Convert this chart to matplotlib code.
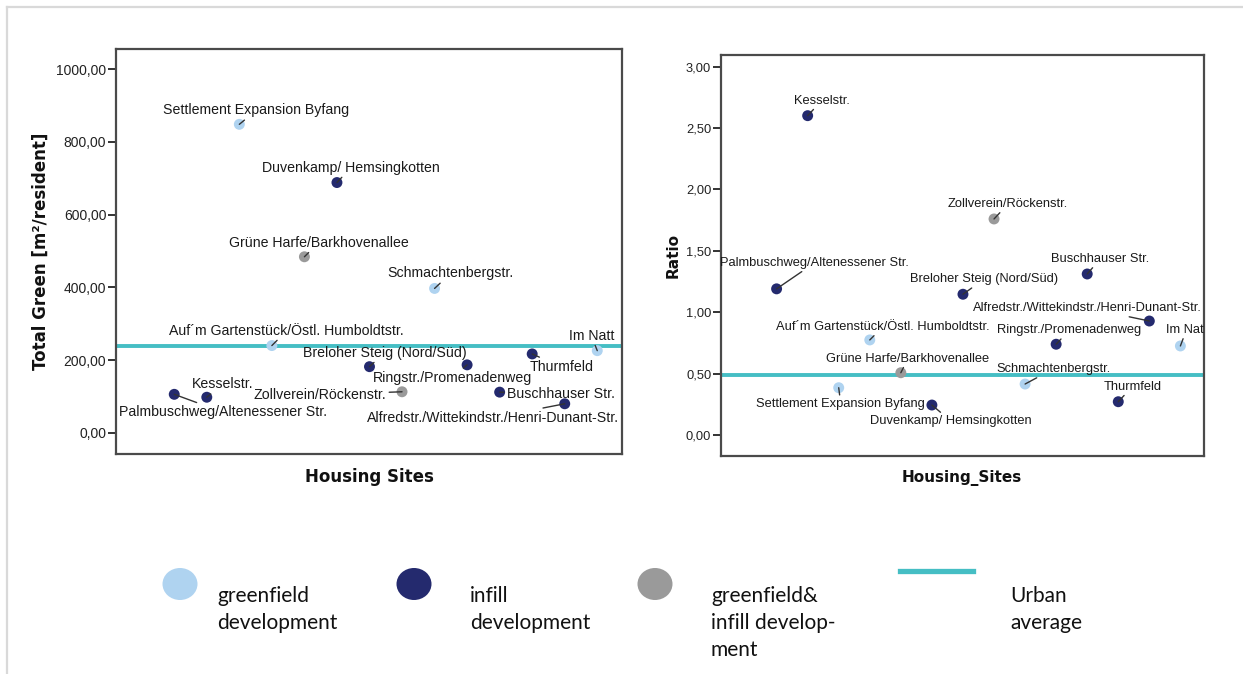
import matplotlib
matplotlib.use("Agg")
import matplotlib.pyplot as plt
from matplotlib.ticker import FuncFormatter
from matplotlib.lines import Line2D
from matplotlib.patches import Ellipse

# ---------------- data ----------------
sites = ["Palmbuschweg/Altenessener Str.", "Kesselstr.", "Settlement Expansion Byfang",
         "Auf´m Gartenstück/Östl. Humboldtstr.", "Grüne Harfe/Barkhovenallee",
         "Duvenkamp/ Hemsingkotten", "Breloher Steig (Nord/Süd)", "Zollverein/Röckenstr.",
         "Schmachtenbergstr.", "Ringstr./Promenadenweg", "Buschhauser Str.", "Thurmfeld",
         "Alfredstr./Wittekindstr./Henri-Dunant-Str.", "Im Natt"]
site_index = [1, 2, 3, 4, 5, 6, 7, 8, 9, 10, 11, 12, 13, 14]
site_type = ["infill", "infill", "greenfield", "greenfield", "mixed", "infill", "infill",
             "mixed", "greenfield", "infill", "infill", "infill", "infill", "greenfield"]
total_green = [106, 98, 848, 240, 484, 688, 182, 113, 397, 187, 112, 217, 80, 226]
ratio = [1.19, 2.60, 0.385, 0.774, 0.507, 0.244, 1.146, 1.759, 0.415, 0.739, 1.311, 0.271, 0.928, 0.725]
urban_avg_green = 240
urban_avg_ratio = 0.489

left_ticks = [0, 200, 400, 600, 800, 1000]
right_ticks = [0, 0.5, 1.0, 1.5, 2.0, 2.5, 3.0]

legend_labels = ["greenfield\ndevelopment", "infill\ndevelopment",
                 "greenfield&\ninfill develop-\nment", "Urban\naverage"]

# ---------------- style ----------------
colors = {"greenfield": "#AFD3F0", "infill": "#242A6E", "mixed": "#9A9A9A"}
teal = "#45BEC4"

# label offsets in pixels (dx right, dy up) for each site, per panel
left_off = [(49, -18), (16, 13), (17, 14), (15, 15), (14, 14), (14, 15), (15, 14),
            (-82, -3), (16, 15), (-15, -13), (61, -2), (29, -13), (-72, -14), (-6, 15)]
right_off = [(38, 26), (14, 15), (2, -16), (13, 13), (7, 14), (19, -16), (21, 15),
             (14, 15), (28, 15), (13, 14), (13, 15), (14, 15), (-62, 13), (6, 16)]

W, H = 1243, 674
fig = plt.figure(figsize=(W / 100, H / 100), dpi=100)
fig.patch.set_facecolor("white")


def px(x, y):
    return x / W, 1 - y / H


def make_panel(rect, values, ylim, ticks, fmt, avg, offs, lab_size, tick_size):
    ax = fig.add_axes(rect)
    ax.set_xlim(-0.79, 14.76)
    ax.set_ylim(*ylim)
    ax.axhline(avg, color=teal, lw=2.8, zorder=2)
    for xi, yi, t in zip(site_index, values, site_type):
        ax.scatter([xi], [yi], s=62, color=colors[t], edgecolors="none", zorder=3)
    for xi, yi, name, (dx, dy) in zip(site_index, values, sites, offs):
        ann = ax.annotate(name, xy=(xi, yi), xytext=(dx, dy), textcoords="offset pixels",
                          ha="center", va="center", color="#1a1a1a", fontfamily="Liberation Sans",
                          fontsize=lab_size, zorder=4,
                          arrowprops=dict(arrowstyle="-", color="#333333", lw=1.0,
                                          shrinkA=0, shrinkB=0))
        ann.set_clip_on(True)
        ann.set_clip_path(ax.patch)
    ax.set_xticks([])
    ax.set_yticks(ticks)
    ax.yaxis.set_major_formatter(FuncFormatter(fmt))
    ax.tick_params(axis="y", direction="out", length=6, width=1.4, color="#333333",
                   labelcolor="#222222", pad=1)
    for lbl in ax.get_yticklabels():
        lbl.set_fontfamily("Liberation Sans")
        lbl.set_fontsize(tick_size)
    for sp in ax.spines.values():
        sp.set_color("#4a4a4a")
        sp.set_linewidth(1.6)
    return ax


fmt2 = lambda v, p: f"{v:.2f}".replace(".", ",")

l0, r0, t0, b0 = 116, 622, 49, 454
axL = make_panel([l0 / W, 1 - b0 / H, (r0 - l0) / W, (b0 - t0) / H], total_green,
                 (-58, 1055), left_ticks, fmt2, urban_avg_green, left_off, 10.2, 10)
l1, r1, t1, b1 = 721, 1204, 55, 456
axR = make_panel([l1 / W, 1 - b1 / H, (r1 - l1) / W, (b1 - t1) / H], ratio,
                 (-0.171, 3.094), right_ticks, fmt2, urban_avg_ratio, right_off, 9.3, 9.3)

tf = dict(family="DejaVu Sans", weight="bold", color="#111111")
fig.text(*px(41, 251), "Total Green [m²/resident]", rotation=90, ha="center", va="center", size=12, **tf)
fig.text(*px(673, 255), "Ratio", rotation=90, ha="center", va="center", size=11, **tf)
fig.text(*px(369, 477), "Housing Sites", ha="center", va="center", size=12, **tf)
fig.text(*px(962, 478), "Housing_Sites", ha="center", va="center", size=11, **tf)

# legend (figure-level)
leg_ax = fig.add_axes([0, 0, 1, 1], facecolor="none")
leg_ax.set_xlim(0, W)
leg_ax.set_ylim(H, 0)
leg_ax.axis("off")
marker_x = [180, 414, 655]
for cx, key in zip(marker_x, ["greenfield", "infill", "mixed"]):
    leg_ax.add_patch(Ellipse((cx, 584), 35, 32, color=colors[key], lw=0))
leg_ax.add_line(Line2D([900, 973], [571, 571], color=teal, lw=3.8))
text_x = [217, 470, 711, 1010]
for tx, lab in zip(text_x, legend_labels):
    leg_ax.text(tx, 586, lab, ha="left", va="top", family="Lato", fontsize=15,
                color="#111111", linespacing=1.425)

# light gray outer frame
leg_ax.add_line(Line2D([7, W], [7, 7], color="#d9d9d9", lw=1.6))
leg_ax.add_line(Line2D([7, 7], [7, H], color="#d9d9d9", lw=1.6))

fig.savefig("out.png", dpi=100, facecolor="white")
